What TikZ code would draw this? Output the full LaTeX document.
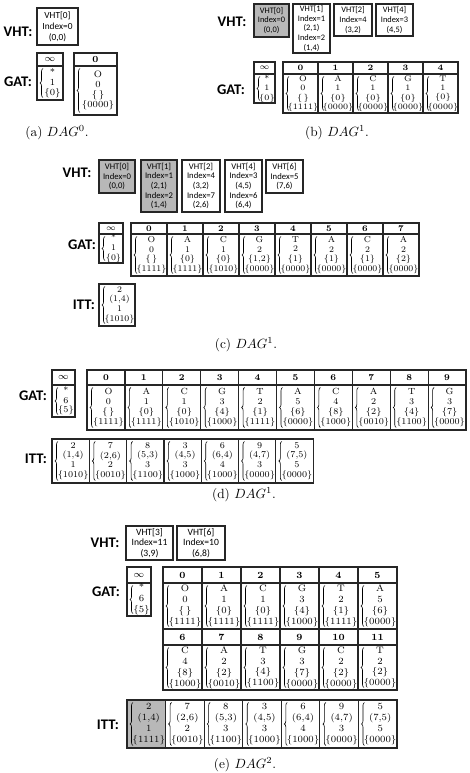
\documentclass[tikz,border=0pt]{standalone}
\usepackage{fontspec}
\newfontfamily\carl{Carlito}
\usetikzlibrary{decorations.pathreplacing}
\tikzset{
 box/.style={draw=black!85, line width=0.9pt},
 brc/.style={decorate, decoration={brace, amplitude=2.2pt}, line width=0.45pt},
 cell/.style={align=center, inner sep=0pt, font=\cellf},
 hdr/.style={inner sep=0pt, font=\cellf\bfseries},
 vtxt/.style={align=center, inner sep=0pt, font=\vhtf},
 lab/.style={inner sep=0pt, font=\carl\bfseries\fontsize{11}{13}\selectfont},
 captxt/.style={inner sep=0pt, font=\fontsize{10}{12}\selectfont},
 shade/.style={fill=black!28},
}
\newcommand\GCol[8]{%
 \draw[box] (#2,#3) rectangle ({#2+#6},#5);
 \draw[box] (#2,#4) -- ({#2+#6},#4);
 \node[hdr] (#1h) at ({#2+#6/2},{(#3+#4)/2}) {#7};
 \draw[brc] ({#2+6},{#5-2.5}) -- ({#2+6},{#4+2.5});
 \node[cell] (#1) at ({#2+#6/2+2.5},{(#4+#5)/2}) {#8};
}
\newcommand\ICol[7]{%
 \draw[box,#7] (#2,#3) rectangle ({#2+#5},#4);
 \draw[brc] ({#2+6},{#4-2.5}) -- ({#2+6},{#3+2.5});
 \node[cell] (#1) at ({#2+#5/2+2.5},{(#3+#4)/2}) {#6};
}
\newcommand\VBox[7]{%
 \draw[box,#7] (#2,#3) rectangle (#4,#5);
 \node[vtxt] (#1) at ({(#2+#4)/2},{(#3+#5)/2}) {#6};
}
\begin{document}
\begin{tikzpicture}[x=0.75pt,y=-0.75pt]
\useasboundingbox (0,0) rectangle (470,773);
% ---------------- (a)
\def\cellf{\fontsize{7}{7.6}\selectfont}
\def\vhtf{\carl\fontsize{7}{8.2}\selectfont}
\node[lab] (aV) at (18,32) {VHT:};
\node[lab] (aG) at (18,82) {GAT:};
\VBox{av0}{37}{8}{78}{45}{VHT[0]\\Index=0\\(0,0)}{}
\GCol{aI}{37}{53}{66}{100}{26}{$\infty$}{*\\1\\\{0\}}
\GCol{a0}{74}{53}{66}{115}{43}{0}{O\\0\\\{\,\}\\\{0000\}}
\node[captxt] (capa) at (57,133) {(a) $DAG^0$.};
% ---------------- (b)
\def\cellf{\fontsize{6.2}{7.1}\selectfont}
\def\vhtf{\carl\fontsize{6.3}{7.2}\selectfont}
\node[lab] (bV) at (232,22) {VHT:};
\node[lab] (bG) at (231,90) {GAT:};
\VBox{bv0}{254}{4}{289}{37}{VHT[0]\\Index=0\\(0,0)}{shade}
\VBox{bv1}{293}{4}{330}{53}{VHT[1]\\Index=1\\(2,1)\\Index=2\\(1,4)}{}
\VBox{bv2}{334}{4}{372}{36}{VHT[2]\\Index=4\\(3,2)}{}
\VBox{bv4}{376}{4}{413}{36}{VHT[4]\\Index=3\\(4,5)}{}
\GCol{bI}{254}{62}{74}{103}{21}{$\infty$}{*\\1\\\{0\}}
\GCol{b0}{283}{62}{74}{113}{35}{0}{O\\0\\\{\,\}\\\{1111\}}
\GCol{b1}{318}{62}{74}{113}{35}{1}{A\\1\\\{0\}\\\{0000\}}
\GCol{b2}{353}{62}{74}{113}{35}{2}{C\\1\\\{0\}\\\{0000\}}
\GCol{b3}{388}{62}{74}{113}{35}{3}{G\\1\\\{0\}\\\{0000\}}
\GCol{b4}{423}{62}{74}{113}{35}{4}{T\\1\\\{0\}\\\{0000\}}
\node[captxt] (capb) at (337,133) {(b) $DAG^1$.};
% ---------------- (c)
\def\cellf{\fontsize{6.5}{7.3}\selectfont}
\def\vhtf{\carl\fontsize{6.5}{7.2}\selectfont}
\node[lab] (cV) at (77,173) {VHT:};
\node[lab] (cG) at (82,245) {GAT:};
\node[lab] (cT) at (84,305) {ITT:};
\VBox{cv0}{99}{160}{135}{193}{VHT[0]\\Index=0\\(0,0)}{shade}
\VBox{cv1}{141}{160}{177}{212}{VHT[1]\\Index=1\\(2,1)\\Index=2\\(1,4)}{shade}
\VBox{cv2}{182}{160}{220}{212}{VHT[2]\\Index=4\\(3,2)\\Index=7\\(2,6)}{}
\VBox{cv4}{225}{160}{262}{212}{VHT[4]\\Index=3\\(4,5)\\Index=6\\(6,4)}{}
\VBox{cv6}{266}{160}{303}{193}{VHT[6]\\Index=5\\(7,6)}{}
\GCol{cI}{99}{223}{234}{263}{24}{$\infty$}{*\\1\\\{0\}}
\GCol{c0}{131}{223}{234}{276}{36}{0}{O\\0\\\{\,\}\\\{1111\}}
\GCol{c1}{167}{223}{234}{276}{36}{1}{A\\1\\\{0\}\\\{1111\}}
\GCol{c2}{203}{223}{234}{276}{36}{2}{C\\1\\\{0\}\\\{1010\}}
\GCol{c3}{239}{223}{234}{276}{36}{3}{G\\2\\\{1,2\}\\\{0000\}}
\GCol{c4}{275}{223}{234}{276}{36}{4}{T\\2\\\{1\}\\\{0000\}}
\GCol{c5}{311}{223}{234}{276}{36}{5}{A\\2\\\{1\}\\\{0000\}}
\GCol{c6}{347}{223}{234}{276}{36}{6}{C\\2\\\{1\}\\\{0000\}}
\GCol{c7}{383}{223}{234}{276}{36}{7}{A\\2\\\{2\}\\\{0000\}}
\ICol{ct0}{99}{284}{326}{36}{2\\(1,4)\\1\\\{1010\}}{}
\node[captxt] (capc) at (246,345) {(c) $DAG^1$.};
% ---------------- (d)
\def\cellf{\fontsize{6.7}{7.3}\selectfont}
\node[lab] (dG) at (33,396) {GAT:};
\node[lab] (dT) at (36,459) {ITT:};
\GCol{dI}{52}{370}{385}{417}{23}{$\infty$}{*\\6\\\{5\}}
\GCol{d0}{87}{370}{385}{430}{37.9}{0}{O\\0\\\{\,\}\\\{1111\}}
\GCol{d1}{124.9}{370}{385}{430}{37.9}{1}{A\\1\\\{0\}\\\{1111\}}
\GCol{d2}{162.8}{370}{385}{430}{37.9}{2}{C\\1\\\{0\}\\\{1010\}}
\GCol{d3}{200.7}{370}{385}{430}{37.9}{3}{G\\3\\\{4\}\\\{1000\}}
\GCol{d4}{238.6}{370}{385}{430}{37.9}{4}{T\\2\\\{1\}\\\{1111\}}
\GCol{d5}{276.5}{370}{385}{430}{37.9}{5}{A\\5\\\{6\}\\\{0000\}}
\GCol{d6}{314.4}{370}{385}{430}{37.9}{6}{C\\4\\\{8\}\\\{1000\}}
\GCol{d7}{352.3}{370}{385}{430}{37.9}{7}{A\\2\\\{2\}\\\{0010\}}
\GCol{d8}{390.2}{370}{385}{430}{37.9}{8}{T\\3\\\{4\}\\\{1100\}}
\GCol{d9}{428.1}{370}{385}{430}{37.9}{9}{G\\3\\\{7\}\\\{0000\}}
\ICol{dt0}{52}{439}{483}{37.3}{2\\(1,4)\\1\\\{1010\}}{}
\ICol{dt1}{89.3}{439}{483}{37.3}{7\\(2,6)\\2\\\{0010\}}{}
\ICol{dt2}{126.6}{439}{483}{37.3}{8\\(5,3)\\3\\\{1100\}}{}
\ICol{dt3}{163.9}{439}{483}{37.3}{3\\(4,5)\\3\\\{1000\}}{}
\ICol{dt4}{201.2}{439}{483}{37.3}{6\\(6,4)\\4\\\{1000\}}{}
\ICol{dt5}{238.5}{439}{483}{37.3}{9\\(4,7)\\3\\\{0000\}}{}
\ICol{dt6}{275.8}{439}{483}{37.3}{5\\(7,5)\\5\\\{0000\}}{}
\node[captxt] (capd) at (244,495) {(d) $DAG^1$.};
% ---------------- (e)
\def\cellf{\fontsize{7.1}{8.2}\selectfont}
\def\vhtf{\carl\fontsize{7.2}{8}\selectfont}
\node[lab] (eV) at (105,543) {VHT:};
\node[lab] (eG) at (106,592) {GAT:};
\node[lab] (eT) at (108,725) {ITT:};
\VBox{ev3}{126}{526}{173}{560}{VHT[3]\\Index=11\\(3,9)}{}
\VBox{ev6}{177}{526}{225}{560}{VHT[6]\\Index=10\\(6,8)}{}
\GCol{eI}{127}{567}{583}{616}{24}{$\infty$}{*\\6\\\{5\}}
\GCol{e0}{163}{567}{583}{629}{39}{0}{O\\0\\\{\,\}\\\{1111\}}
\GCol{e1}{202}{567}{583}{629}{39}{1}{A\\1\\\{0\}\\\{1111\}}
\GCol{e2}{241}{567}{583}{629}{39}{2}{C\\1\\\{0\}\\\{1111\}}
\GCol{e3}{280}{567}{583}{629}{39}{3}{G\\3\\\{4\}\\\{1000\}}
\GCol{e4}{319}{567}{583}{629}{39}{4}{T\\2\\\{1\}\\\{1111\}}
\GCol{e5}{358}{567}{583}{629}{39}{5}{A\\5\\\{6\}\\\{0000\}}
\GCol{e6}{163}{629}{645}{690}{39}{6}{C\\4\\\{8\}\\\{1000\}}
\GCol{e7}{202}{629}{645}{690}{39}{7}{A\\2\\\{2\}\\\{0010\}}
\GCol{e8}{241}{629}{645}{690}{39}{8}{T\\3\\\{4\}\\\{1100\}}
\GCol{e9}{280}{629}{645}{690}{39}{9}{G\\3\\\{7\}\\\{0000\}}
\GCol{e10}{319}{629}{645}{690}{39}{10}{C\\2\\\{2\}\\\{0000\}}
\GCol{e11}{358}{629}{645}{690}{39}{11}{T\\2\\\{2\}\\\{0000\}}
\ICol{et0}{127}{700}{748}{38.57}{2\\(1,4)\\1\\\{1111\}}{shade}
\ICol{et1}{165.57}{700}{748}{38.57}{7\\(2,6)\\2\\\{0010\}}{}
\ICol{et2}{204.14}{700}{748}{38.57}{8\\(5,3)\\3\\\{1100\}}{}
\ICol{et3}{242.71}{700}{748}{38.57}{3\\(4,5)\\3\\\{1000\}}{}
\ICol{et4}{281.28}{700}{748}{38.57}{6\\(6,4)\\4\\\{1000\}}{}
\ICol{et5}{319.85}{700}{748}{38.57}{9\\(4,7)\\3\\\{0000\}}{}
\ICol{et6}{358.42}{700}{748}{38.57}{5\\(7,5)\\5\\\{0000\}}{}
\node[captxt] (cape) at (245,765) {(e) $DAG^2$.};
\end{tikzpicture}
\end{document}
